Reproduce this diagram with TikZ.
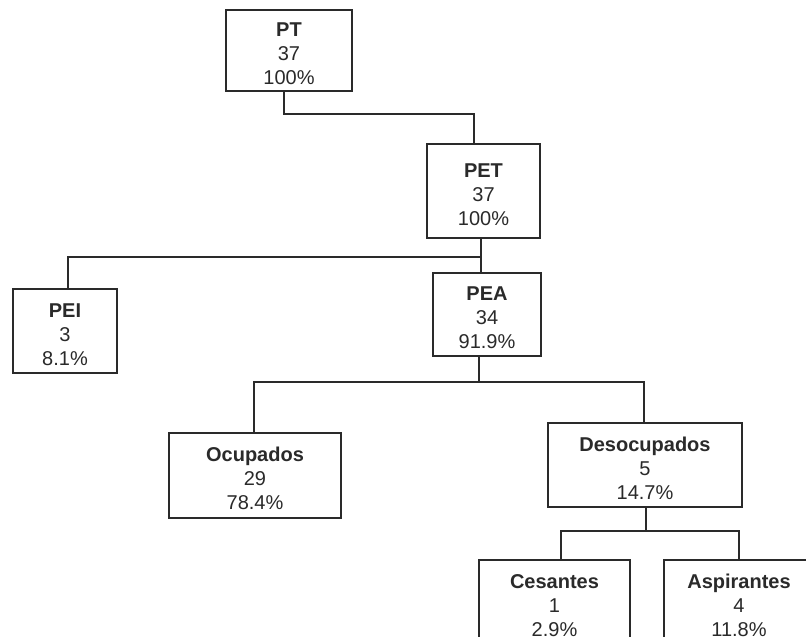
\documentclass[tikz,border=0pt]{standalone}
\usepackage{fontspec}
\setmainfont{Liberation Sans}
\definecolor{ink}{HTML}{2A2A2A}
\newcommand{\topstrut}{\rule{0pt}{20.5pt}}
\tikzset{
  box/.style={draw=ink, line width=1.3pt, fill=white, align=center, inner sep=0pt,
    text=ink, font=\fontsize{20}{24}\selectfont},
  link/.style={draw=ink, line width=1.2pt}
}
\begin{document}
\begin{tikzpicture}[x=1pt,y=-1pt]
\clip (0,0) rectangle (806,637);
\fill[white] (0,0) rectangle (806,637);
% nodes
\node[box, minimum width=126pt, minimum height=81pt] (PT) at (289,50.5) {\topstrut\textbf{PT}\\37\\100\%};
\node[box, minimum width=113pt, minimum height=94pt] (PET) at (483.5,191) {\topstrut\textbf{PET}\\37\\100\%};
\node[box, minimum width=104pt, minimum height=84pt] (PEI) at (65,331) {\topstrut\textbf{PEI}\\3\\8.1\%};
\node[box, minimum width=108pt, minimum height=83pt] (PEA) at (487,314.5) {\topstrut\textbf{PEA}\\34\\91.9\%};
\node[box, minimum width=172pt, minimum height=85pt] (OCU) at (255,475.5) {\topstrut\textbf{Ocupados}\\29\\78.4\%};
\node[box, minimum width=194pt, minimum height=84pt] (DES) at (645,465) {\topstrut\textbf{Desocupados}\\5\\14.7\%};
\node[box, minimum width=151pt, minimum height=84pt] (CES) at (554.5,602) {\topstrut\textbf{Cesantes}\\1\\2.9\%};
\node[box, minimum width=150pt, minimum height=84pt] (ASP) at (739,602) {\topstrut\textbf{Aspirantes}\\4\\11.8\%};
% bus coordinates
\coordinate (b1a) at (284,114);
\coordinate (b1b) at (474,114);
\coordinate (b2a) at (68,257);
\coordinate (b2b) at (481,257);
\coordinate (b3a) at (254,382);
\coordinate (b3m) at (479,382);
\coordinate (b3b) at (644,382);
\coordinate (b4a) at (561,531);
\coordinate (b4m) at (646,531);
\coordinate (b4b) at (739,531);
% connectors
\draw[link] (PT.south -| b1a) -- (b1a) -- (b1b) -- (b1b |- PET.north);
\draw[link] (PET.south -| b2b) -- (b2b |- PEA.north);
\draw[link] (b2b) -- (b2a) -- (b2a |- PEI.north);
\draw[link] (PEA.south -| b3m) -- (b3m);
\draw[link] (b3a |- OCU.north) -- (b3a) -- (b3b) -- (b3b |- DES.north);
\draw[link] (DES.south -| b4m) -- (b4m);
\draw[link] (b4a |- CES.north) -- (b4a) -- (b4b) -- (b4b |- ASP.north);
\end{tikzpicture}
\end{document}
